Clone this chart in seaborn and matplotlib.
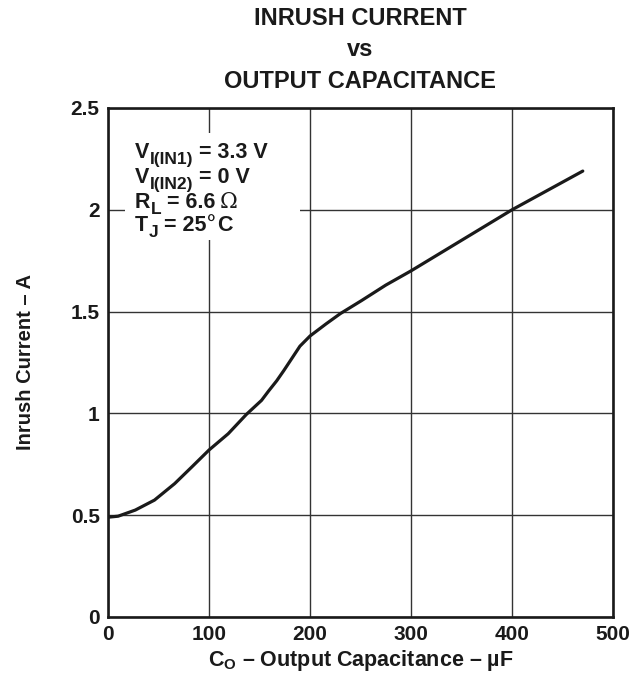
import pandas as pd
import seaborn as sns
import matplotlib.pyplot as plt
from matplotlib.patches import Rectangle

# data
cap_uf = [0, 10, 27, 46, 66, 83, 100, 119, 137, 152, 159, 167, 174, 190, 200, 216, 230, 251, 275, 300, 350, 400, 470]
inrush_a = [0.49, 0.495, 0.525, 0.574, 0.655, 0.737, 0.82, 0.90, 0.995, 1.064, 1.11, 1.16, 1.21, 1.33, 1.38,
            1.44, 1.49, 1.554, 1.63, 1.70, 1.85, 2.00, 2.19]
x_ticks = [0, 100, 200, 300, 400, 500]
y_ticks = [0, 0.5, 1, 1.5, 2, 2.5]
y_tick_labels = ["0", "0.5", "1", "1.5", "2", "2.5"]
title_lines = ["INRUSH CURRENT", "vs", "OUTPUT CAPACITANCE"]

# test conditions: symbol, subscript, value part, unit part
cond_sym = ["V", "V", "R", "T"]
cond_sub = ["I(IN1)", "I(IN2)", "L", "J"]
cond_val = ["= 3.3 V", "= 0 V", "= 6.6", "= 25"]
cond_unit = ["", "", "Ω", "°"]
cond_tail = ["", "", "", "C"]

sns.set_theme(style="whitegrid")
plt.rcParams["font.family"] = ["Liberation Sans", "DejaVu Sans"]
plt.rcParams["font.weight"] = "bold"
plt.rcParams["mathtext.fontset"] = "custom"
plt.rcParams["mathtext.rm"] = "Liberation Sans:bold"
plt.rcParams["mathtext.it"] = "Liberation Sans:bold"
plt.rcParams["mathtext.bf"] = "Liberation Sans:bold"

ink = "#1a1a1a"
df = pd.DataFrame({"cap": cap_uf, "current": inrush_a})

fig = plt.figure(figsize=(6.44, 6.76), dpi=100)
ax = fig.add_axes([0.1677, 0.0873, 0.7843, 0.7530])

sns.lineplot(data=df, x="cap", y="current", color=ink, linewidth=2.3, sort=False, ax=ax, zorder=4)

ax.set_xlim(0, 500)
ax.set_ylim(0, 2.5)
ax.set_xticks(x_ticks)
ax.set_yticks(y_ticks)
ax.set_yticklabels(y_tick_labels)
ax.grid(True, color="#333333", linewidth=1.0)
ax.tick_params(axis="both", length=0, labelsize=15, colors=ink, pad=6)
for lbl in ax.get_xticklabels() + ax.get_yticklabels():
    lbl.set_fontweight("bold")
for sp in ax.spines.values():
    sp.set_color(ink)
    sp.set_linewidth(1.9)

ax.set_xlabel(r"$\mathregular{C_O}$ – Output Capacitance – µF", fontsize=15.5,
              fontweight="bold", color=ink, va="top")
ax.xaxis.set_label_coords(0.5, -0.061)
ax.set_ylabel("Inrush Current – A", fontsize=14.5, fontweight="bold", color=ink)
ax.yaxis.set_label_coords(-0.145, 0.5)

# white box behind the test conditions (grid is hidden there)
ax.add_patch(Rectangle((0.034, 0.74), 0.346, 0.21, transform=ax.transAxes,
                       facecolor="white", edgecolor="none", zorder=2))

MAIN, SUB = 15.5, 12.5
# (size, baseline shift in pt, descent fraction, family, weight)
styles = {
    "main": (MAIN, 0.0, 0.212, ["Liberation Sans"], "bold"),
    "sub": (SUB, -3.6, 0.212, ["Liberation Sans"], "bold"),
    "sym": (MAIN, 0.0, 0.236, ["DejaVu Serif"], "normal"),
}
unit_gap = [0, 0, 3.0, 0.0]


def bottom_of(kind):
    size, shift, desc, _, _ = styles[kind]
    return shift - desc * size


cond_y = [0.9018, 0.8527, 0.8035, 0.7583]
for i, yy in enumerate(cond_y):
    prev = ax.text(0.0535, yy, cond_sym[i], transform=ax.transAxes, fontsize=MAIN,
                   fontweight="bold", color=ink, va="baseline", ha="left", zorder=3)
    prev_kind = "main"
    pieces = [(cond_sub[i], "sub", 0.3), (cond_val[i], "main", 4.0),
              (cond_unit[i], "sym", unit_gap[i]), (cond_tail[i], "main", 0.0)]
    for txt, kind, gap in pieces:
        if not txt:
            continue
        size, _, _, fam, wt = styles[kind]
        dy = bottom_of(kind) - bottom_of(prev_kind)
        prev = ax.annotate(txt, xy=(1, 0), xycoords=prev, xytext=(gap, dy),
                           textcoords="offset points", fontsize=size, family=fam,
                           fontweight=wt, color=ink, va="bottom", ha="left", zorder=3)
        prev_kind = kind

for t, yy in zip(title_lines, [0.9719, 0.9275, 0.8787]):
    fig.text(0.5596, yy, t, ha="center", va="center", fontsize=17,
             fontweight="bold", color=ink)

plt.savefig("out.png", dpi=100)
